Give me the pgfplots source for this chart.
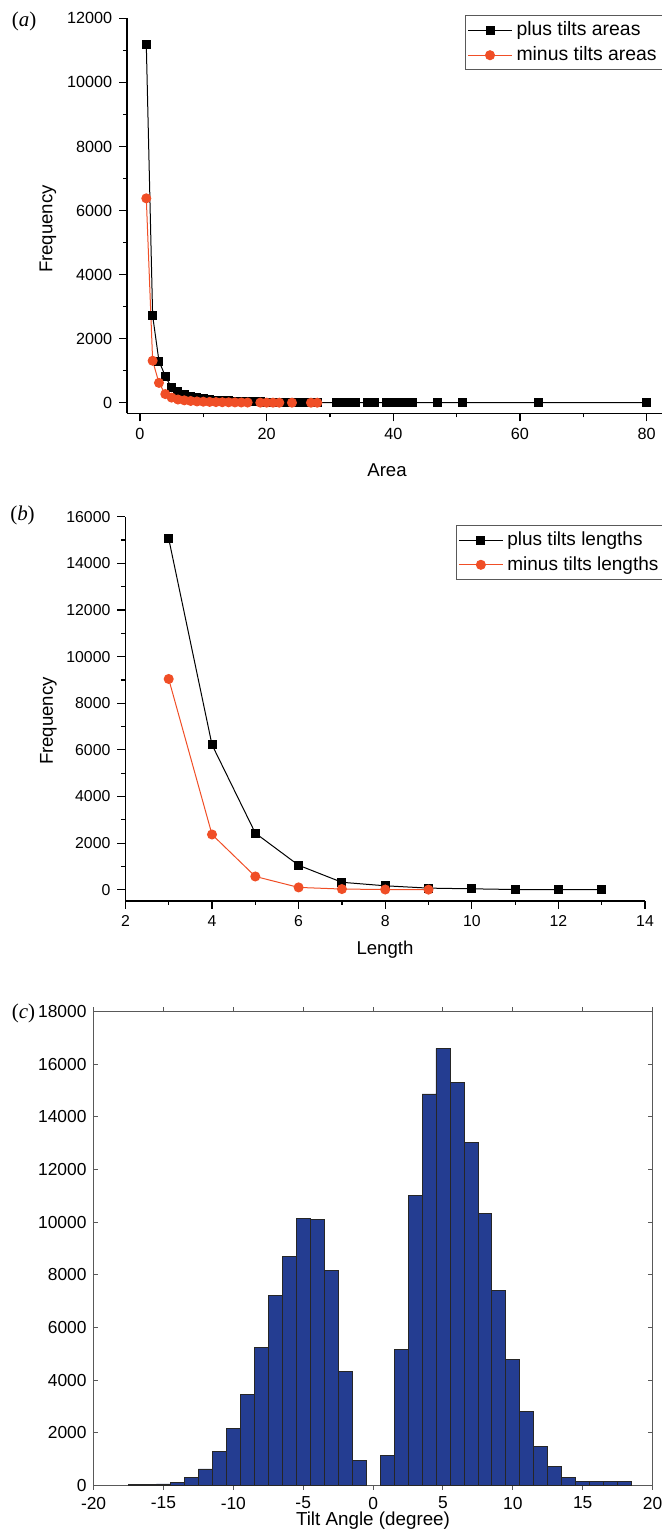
\documentclass[border=0pt]{standalone}
\usepackage{fontspec}
\setmainfont{Liberation Sans}
\newfontfamily\serif{Liberation Serif}
\usepackage{pgfplots}
\pgfplotsset{compat=1.18}
\definecolor{minusred}{RGB}{240,78,38}
\definecolor{barblue}{RGB}{36,61,145}

\newcommand{\tickfont}{\fontsize{8.1}{9}\selectfont}
\newcommand{\tickfontb}{\fontsize{7.9}{9}\selectfont}
\newcommand{\tickfontc}{\fontsize{8.7}{10}\selectfont}

\pgfplotsset{
  originstyle/.style={
    scale only axis,
    axis lines=left,
    axis line style={-, line width=0.8pt},
    tick align=outside,
    major tick length=4pt, minor tick length=2pt,
    tick style={line width=0.6pt, black},
    scaled ticks=false,
    minor x tick num=1, minor y tick num=1,
    legend cell align=left,
    legend style={draw=gray!70!black, line width=0.5pt,
      font=\fontsize{9.7}{11.5}\selectfont, inner sep=1pt, row sep=0pt,
      anchor=north west},
    legend image code/.code={\draw[mark repeat=2,mark phase=2,#1]
      plot coordinates {(0pt,0pt) (11pt,0pt) (22pt,0pt)};},
  },
}

\begin{document}
\begin{tikzpicture}
\path[use as bounding box] (0,0) rectangle (330.5pt,-765pt);

% (a) areas
\begin{axis}[originstyle,
  at={(63.65pt,-206.65pt)}, anchor=south west,
  width=272.35pt, height=197.5pt,
  xmin=-2, xmax=84, ymin=-330, ymax=12000,
  xtick={0,20,40,60,80}, ytick={0,2000,...,12000},
  xticklabel={\tickfont\pgfmathprintnumber[assume math mode=true,1000 sep={}]{\tick}},
  yticklabel={\tickfont\pgfmathprintnumber[assume math mode=true,1000 sep={}]{\tick}},
  legend style={at={(0.62,1.008)}},
]
\addplot[black, line width=0.5pt, mark=square*, mark size=2pt] coordinates {
(1,11180) (2,2720) (3,1300) (4,830) (5,460) (6,340) (7,250) (8,190) (9,150) (10,120)
(11,100) (12,80) (13,65) (14,55) (15,45) (16,38) (17,32) (18,27) (19,23) (20,20)
(21,17) (22,15) (23,13) (24,11) (25,9) (26,8) (27,7) (28,6)
(31,4) (32,3) (33,3) (34,2) (36,2) (37,2) (39,1) (40,1) (41,1) (42,1) (43,1)
(47,1) (51,1) (63,1) (80,1)};
\addlegendentry{plus tilts areas}
\addplot[minusred, line width=0.5pt, mark=*, mark size=2.25pt] coordinates {
(1,6380) (2,1310) (3,620) (4,270) (5,160) (6,100) (7,75) (8,55) (9,40) (10,32)
(11,26) (12,20) (13,16) (14,13) (15,10) (16,8) (17,6)
(19,4) (20,3) (21,3) (22,2) (24,2) (27,1) (28,1)};
\addlegendentry{minus tilts areas}
\end{axis}
\node[rotate=90, font=\fontsize{9.3}{11}\selectfont] at (24pt,-114.5pt) {Frequency};
\node[font=\fontsize{9.3}{11}\selectfont] at (193.5pt,-235pt) {Area};
\node[font=\serif\fontsize{10.5}{12}\selectfont] at (12pt,-10.5pt) {(\textit{a})};

% (b) lengths
\begin{axis}[originstyle,
  at={(62.7pt,-450.35pt)}, anchor=south west,
  width=259.8pt, height=192pt,
  xmin=2, xmax=14, ymin=-470, ymax=16000,
  xtick={2,4,...,14}, ytick={0,2000,...,16000},
  xticklabel={\tickfontb\pgfmathprintnumber[assume math mode=true,1000 sep={}]{\tick}},
  yticklabel={\tickfontb\pgfmathprintnumber[assume math mode=true,1000 sep={}]{\tick}},
  legend style={at={(0.636,0.978)}, font=\fontsize{9.5}{11.5}\selectfont},
]
\addplot[black, line width=0.5pt, mark=square*, mark size=2pt] coordinates {
(3,15060) (4,6220) (5,2430) (6,1050) (7,320) (8,170) (9,70) (10,40) (11,10) (12,5) (13,2)};
\addlegendentry{plus tilts lengths}
\addplot[minusred, line width=0.5pt, mark=*, mark size=2.25pt] coordinates {
(3,9040) (4,2370) (5,570) (6,100) (7,30) (8,10) (9,5)};
\addlegendentry{minus tilts lengths}
\end{axis}
\node[rotate=90, font=\fontsize{9.3}{11}\selectfont] at (24.25pt,-360.5pt) {Frequency};
\node[font=\fontsize{9.3}{11}\selectfont] at (192.5pt,-475pt) {Length};
\node[font=\serif\fontsize{10.5}{12}\selectfont] at (11.25pt,-257.5pt) {(\textit{b})};

% (c) tilt angle histogram
\begin{axis}[
  scale only axis,
  at={(46.8pt,-742.75pt)}, anchor=south west,
  width=279.5pt, height=237pt,
  xmin=-20, xmax=20, ymin=0, ymax=18000,
  xtick={-20,-15,...,20}, ytick={0,2000,...,18000},
  tick align=inside, major tick length=2.2pt,
  axis line style={gray!70!black, line width=0.5pt},
  tick style={gray!70!black, line width=0.5pt},
  xticklabel={\tickfontc\pgfmathprintnumber[assume math mode=true,1000 sep={}]{\tick}},
  yticklabel={\tickfontc\pgfmathprintnumber[assume math mode=true,1000 sep={}]{\tick}},
  scaled ticks=false,
  ybar, bar width=1,
]
\addplot[fill=barblue, draw=black!85, line width=0.4pt] coordinates {
(-17,50) (-16,50) (-15,60) (-14,120) (-13,300) (-12,630) (-11,1290) (-10,2170)
(-9,3450) (-8,5230) (-7,7230) (-6,8700) (-5,10150) (-4,10100) (-3,8170) (-2,4330) (-1,960)
(1,1140) (2,5180) (3,11000) (4,14870) (5,16600) (6,15290) (7,13040) (8,10330)
(9,7420) (10,4800) (11,2810) (12,1470) (13,730) (14,310) (15,140) (16,140) (17,140) (18,140)};
\end{axis}
\node[font=\serif\fontsize{10.5}{12}\selectfont] at (11.75pt,-506.5pt) {(\textit{c})};
\node[font=\fontsize{9.4}{11}\selectfont] at (186.5pt,-760.5pt) {Tilt Angle (degree)};
\end{tikzpicture}
\end{document}
